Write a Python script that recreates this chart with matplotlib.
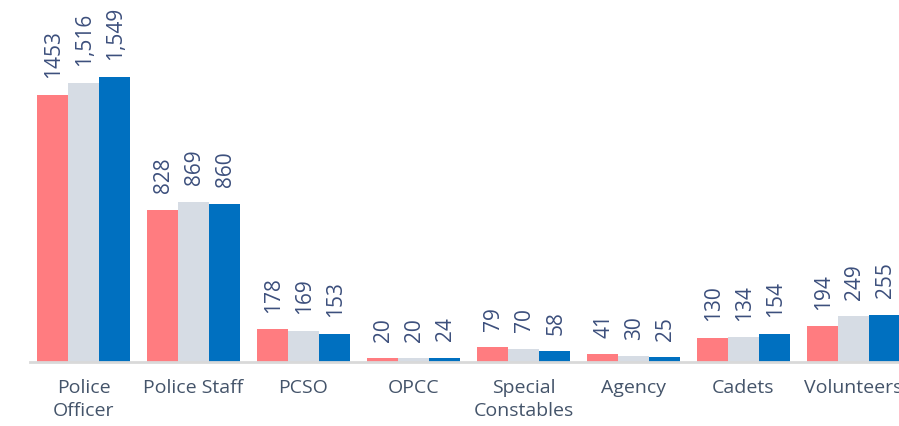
import matplotlib
matplotlib.use("Agg")
import matplotlib.pyplot as plt
import numpy as np

categories = ["Police\nOfficer", "Police Staff", "PCSO", "OPCC", "Special\nConstables",
              "Agency", "Cadets", "Volunteers"]
series_a = [1453, 828, 178, 20, 79, 41, 130, 194]
series_b = [1516, 869, 169, 20, 70, 30, 134, 249]
series_c = [1549, 860, 153, 24, 58, 25, 154, 255]

colors = ["#FF7C80", "#D6DCE4", "#0070C0"]
label_color = "#3C4F7C"
tick_color = "#44546A"

plt.rcParams["font.family"] = ["Open Sans", "DejaVu Sans"]

fig = plt.figure(figsize=(8.99, 4.26), dpi=100)
ax = fig.add_axes([30 / 899, 1 - 362 / 426, 1 - 30 / 899, 362 / 426])

x = np.arange(len(categories))
width = 0.282
all_series = [series_a, series_b, series_c]
for k, (vals, col) in enumerate(zip(all_series, colors)):
    pos = x + (k - 1) * width
    ax.bar(pos, vals, width=width, color=col, edgecolor="none", zorder=2)
    for p, v in zip(pos, vals):
        txt = f"{v:d}" if k == 0 else f"{v:,}"
        ax.annotate(txt, (p, v), xytext=(1, 12), textcoords="offset points",
                    rotation=90, ha="center", va="bottom", fontsize=15,
                    color=label_color)

ax.set_xlim(-0.486, 7.414)
ax.set_ylim(0, 1549 * 362 / 285)
ax.set_xticks(x)
ax.set_xticklabels(categories, fontsize=14, color=tick_color, linespacing=1.4)
ax.tick_params(axis="x", length=0, pad=12)
ax.set_yticks([])
for s in ["left", "right", "top"]:
    ax.spines[s].set_visible(False)
ax.spines["bottom"].set_color("#D9D9D9")
ax.spines["bottom"].set_linewidth(2)
ax.spines["bottom"].set_zorder(3)
ax.patch.set_alpha(0)

fig.savefig("out.png", dpi=100)
